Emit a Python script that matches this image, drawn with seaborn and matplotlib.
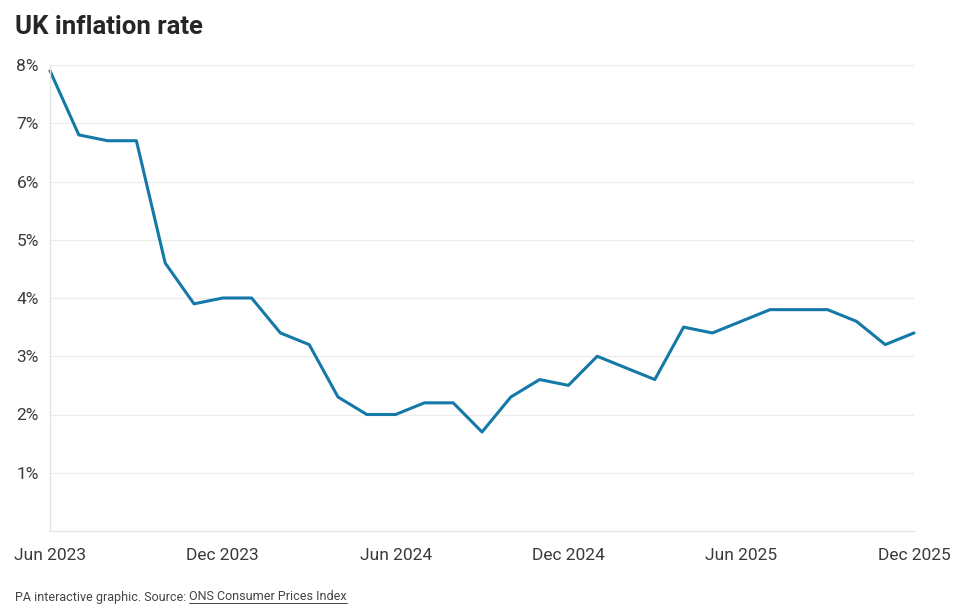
import matplotlib
matplotlib.use("Agg")
import matplotlib.pyplot as plt
import seaborn as sns
import pandas as pd

months = ["Jun 2023", "Jul 2023", "Aug 2023", "Sep 2023", "Oct 2023", "Nov 2023", "Dec 2023",
          "Jan 2024", "Feb 2024", "Mar 2024", "Apr 2024", "May 2024", "Jun 2024",
          "Jul 2024", "Aug 2024", "Sep 2024", "Oct 2024", "Nov 2024", "Dec 2024",
          "Jan 2025", "Feb 2025", "Mar 2025", "Apr 2025", "May 2025", "Jun 2025",
          "Jul 2025", "Aug 2025", "Sep 2025", "Oct 2025", "Nov 2025", "Dec 2025"]
inflation = [7.9, 6.8, 6.7, 6.7, 4.6, 3.9, 4.0,
             4.0, 3.4, 3.2, 2.3, 2.0, 2.0,
             2.2, 2.2, 1.7, 2.3, 2.6, 2.5,
             3.0, 2.8, 2.6, 3.5, 3.4, 3.6,
             3.8, 3.8, 3.8, 3.6, 3.2, 3.4]
tick_labels = ["Jun 2023", "Dec 2023", "Jun 2024", "Dec 2024", "Jun 2025", "Dec 2025"]
y_ticks = [1, 2, 3, 4, 5, 6, 7, 8]

df = pd.DataFrame({"idx": range(len(months)), "month": months, "rate": inflation})

sns.set_theme(style="white")
plt.rcParams['font.family'] = ['Roboto', 'DejaVu Sans']

fig = plt.figure(figsize=(9.6, 6.11), dpi=100)
ax = fig.add_axes([50/960, 1-531/611, 864/960, (531-65)/611])

sns.lineplot(data=df, x="idx", y="rate", ax=ax, color="#1479a6", linewidth=2.2)
for l in ax.lines:
    l.set_clip_on(False)

ax.set_xlim(0, len(months)-1)
ax.set_ylim(0, 8)
ax.set_yticks(y_ticks)
ax.set_yticklabels([f"{v}%" for v in y_ticks])
xt = [months.index(m) for m in tick_labels]
ax.set_xticks(xt)
ax.set_xticklabels(tick_labels)
ax.set_xlabel("")
ax.set_ylabel("")
ax.grid(axis="y", color="#ececec", linewidth=0.9)
ax.set_axisbelow(True)
for s in ["top", "right"]:
    ax.spines[s].set_visible(False)
ax.spines["left"].set_color("#e3e3e3")
ax.spines["bottom"].set_color("#e3e3e3")
ax.spines["left"].set_linewidth(0.9)
ax.spines["bottom"].set_linewidth(0.9)
ax.tick_params(axis="y", length=0, pad=8, labelsize=12.5, labelcolor="#3a3a3a")
ax.tick_params(axis="x", length=5, width=0.9, color="#e3e3e3", pad=7, labelsize=12.5, labelcolor="#3a3a3a")

fig.text(15/960, 1-27/611, "UK inflation rate", fontsize=18.5, fontweight="bold",
         color="#262626", ha="left", va="center")
fig.text(15/960, 1-597/611, "PA interactive graphic. Source: ", fontsize=9,
         color="#444444", ha="left", va="center")
src = fig.text(185/960, 1-597/611, "ONS Consumer Prices Index", fontsize=9,
               color="#444444", ha="left", va="center")
fig.canvas.draw()
r = fig.canvas.get_renderer()
t0 = fig.texts[1].get_window_extent(r)
src.set_x(t0.x1 / fig.bbox.width)
fig.canvas.draw()
bb = src.get_window_extent(r)
fig.add_artist(plt.Line2D([bb.x0/fig.bbox.width, bb.x1/fig.bbox.width],
                          [(bb.y0+1)/fig.bbox.height]*2, color="#444444", linewidth=0.7,
                          transform=fig.transFigure))

fig.savefig("out.png", dpi=100, facecolor="white")
